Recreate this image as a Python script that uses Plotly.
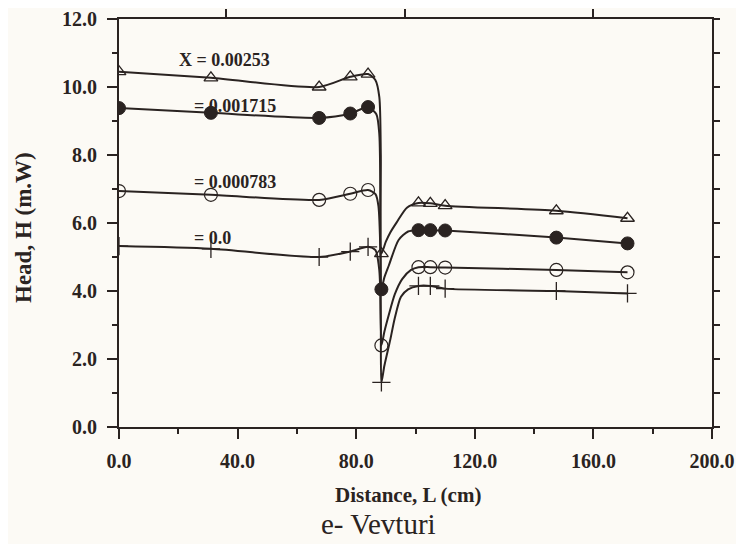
import plotly.graph_objects as go

# Measured pressure-tap positions (cm)
L_points = [0, 31, 67.5, 78, 84, 88.5, 101, 105, 110, 147.5, 171.5]

# Head values (m.W) for each mass dryness fraction X
H_x00253 = [10.45, 10.27, 10.0, 10.3, 10.38, 5.1, 6.59, 6.58, 6.51, 6.36, 6.14]
H_x001715 = [9.38, 9.24, 9.09, 9.22, 9.41, 4.05, 5.79, 5.79, 5.78, 5.57, 5.40]
H_x000783 = [6.94, 6.83, 6.68, 6.86, 6.97, 2.4, 4.7, 4.7, 4.69, 4.62, 4.55]
H_x0 = [5.32, 5.24, 5.0, 5.16, 5.3, 1.31, 4.15, 4.15, 4.07, 4.0, 3.93]

# Extra positions read along the drawn fitted curves near the throat
curve_L_x00253 = [86.5, 87.8, 88.3, 90.0, 91.5, 93.6, 97.1]
curve_H_x00253 = [10.2, 9.7, 8.0, 5.45, 5.72, 6.01, 6.45]
curve_L_x001715 = [86.8, 87.8, 88.2, 89.5, 91.0, 94.3, 97.5]
curve_H_x001715 = [9.2, 8.6, 6.0, 4.4, 4.75, 5.5, 5.75]
curve_L_x000783 = [86.5, 87.5, 88.2, 89.5, 91.0, 93.0, 95.5, 98.5]
curve_H_x000783 = [6.85, 6.5, 5.0, 2.8, 3.3, 3.9, 4.35, 4.62]
curve_L_x0 = [86.5, 87.8, 88.3, 89.5, 91.5, 93.0, 95.1, 97.5]
curve_H_x0 = [5.2, 4.6, 3.0, 1.8, 2.57, 3.2, 3.83, 4.05]

series_labels = ["X = 0.00253", "= 0.001715", "= 0.000783", "= 0.0"]
label_L = [19.5, 24.5, 24.5, 24.5]
label_H = [10.8, 9.45, 7.2, 5.55]

INK = "#2a2321"
BG = "#fcfaf5"
FONT = "Liberation Serif"

OFF = 8  # page body margin
W, H = 744, 544
ML, MT = 119 - OFF, 19 - OFF
PW, PH = 593, 408
MR, MB = W - ML - PW, H - MT - PH

series = [
    (H_x00253, curve_L_x00253, curve_H_x00253,
     dict(symbol="triangle-up-open", size=12, color=INK, line=dict(width=1.3, color=INK))),
    (H_x001715, curve_L_x001715, curve_H_x001715,
     dict(symbol="circle", size=13, color=INK, line=dict(width=1, color=INK))),
    (H_x000783, curve_L_x000783, curve_H_x000783,
     dict(symbol="circle-open", size=13, color=INK, line=dict(width=1.2, color=INK))),
    (H_x0, curve_L_x0, curve_H_x0,
     dict(symbol="cross-thin-open", size=13, color=INK, line=dict(width=1.3, color=INK))),
]

fig = go.Figure()
for Hs, cL, cH, mk in series:
    pts = sorted(zip(L_points + cL, Hs + cH))
    fig.add_trace(go.Scatter(
        x=[p[0] for p in pts], y=[p[1] for p in pts], mode="lines",
        line=dict(color=INK, width=2, shape="spline", smoothing=0.7),
        showlegend=False, hoverinfo="skip"))
    fig.add_trace(go.Scatter(
        x=L_points, y=Hs, mode="markers", marker=mk, showlegend=False))

# invisible trace to activate secondary axes
fig.add_trace(go.Scatter(x=[0], y=[0], xaxis="x2", yaxis="y2", mode="markers",
                         marker=dict(opacity=0), showlegend=False, hoverinfo="skip"))

tick_font = dict(family=FONT, size=20, color=INK, weight="bold")

fig.update_layout(
    width=W, height=H,
    margin=dict(l=ML, r=MR, t=MT, b=MB),
    paper_bgcolor=BG, plot_bgcolor=BG,
    font=dict(family=FONT, color=INK),
    xaxis=dict(range=[0, 200], tickmode="array", automargin=False,
               tickvals=[0, 40, 80, 120, 160, 200],
               ticktext=["0.0", "40.0", "80.0", "120.0", "160.0", "200.0"],
               showgrid=False, zeroline=False, showline=True, linecolor=INK, linewidth=2,
               ticks="outside", ticklen=10, tickwidth=2, tickcolor=INK,
               minor=dict(ticks="outside", ticklen=5, tickwidth=2, tickcolor=INK, dtick=20, showgrid=False),
               tickfont=tick_font, ticklabelstandoff=5),
    yaxis=dict(range=[0, 12], tickmode="array", automargin=False,
               tickvals=[0, 2, 4, 6, 8, 10, 12],
               ticktext=["0.0", "2.0", "4.0", "6.0", "8.0", "10.0", "12.0"],
               showgrid=False, zeroline=False, showline=True, linecolor=INK, linewidth=2,
               ticks="outside", ticklen=10, tickwidth=2, tickcolor=INK,
               minor=dict(ticks="outside", ticklen=5, tickwidth=2, tickcolor=INK, dtick=1, showgrid=False),
               tickfont=tick_font, ticklabelstandoff=6),
    xaxis2=dict(overlaying="x", side="top", range=[0, 200], tickmode="array", automargin=False,
                tickvals=[36, 96.5, 160], showticklabels=False,
                showgrid=False, zeroline=False, showline=True, linecolor=INK, linewidth=1.5,
                ticks="outside", ticklen=8, tickwidth=1.5, tickcolor=INK),
    yaxis2=dict(overlaying="y", side="right", range=[0, 12], dtick=1, showticklabels=False,
                automargin=False,
                showgrid=False, zeroline=False, showline=True, linecolor=INK, linewidth=1.5,
                ticks="outside", ticklen=6, tickwidth=1.5, tickcolor=INK),
)

for txt, lx, ly in zip(series_labels, label_L, label_H):
    fig.add_annotation(x=lx, y=ly, xref="x", yref="y", text=txt, showarrow=False,
                       xanchor="left", yanchor="middle",
                       font=dict(family=FONT, size=18, color=INK, weight="bold"))


def px_to_paper(sx, sy):
    # screen pixel -> paper coordinates
    fx, fy = sx - OFF, sy - OFF
    return (fx - ML) / PW, (H - MB - fy) / PH


x0, y0 = px_to_paper(408, 495)
fig.add_annotation(x=x0, y=y0, xref="paper", yref="paper", text="Distance, L (cm)",
                   showarrow=False, xanchor="center", yanchor="middle",
                   font=dict(family=FONT, size=21, color=INK, weight="bold"))
x0, y0 = px_to_paper(24, 228)
fig.add_annotation(x=x0, y=y0, xref="paper", yref="paper", text="Head, H (m.W)",
                   showarrow=False, textangle=-90, xanchor="center", yanchor="middle",
                   font=dict(family=FONT, size=23, color=INK, weight="bold"))
x0, y0 = px_to_paper(378, 524)
fig.add_annotation(x=x0, y=y0, xref="paper", yref="paper", text="e- Vevturi",
                   showarrow=False, xanchor="center", yanchor="middle",
                   font=dict(family=FONT, size=29, color=INK))

fig.write_html("out.html")
